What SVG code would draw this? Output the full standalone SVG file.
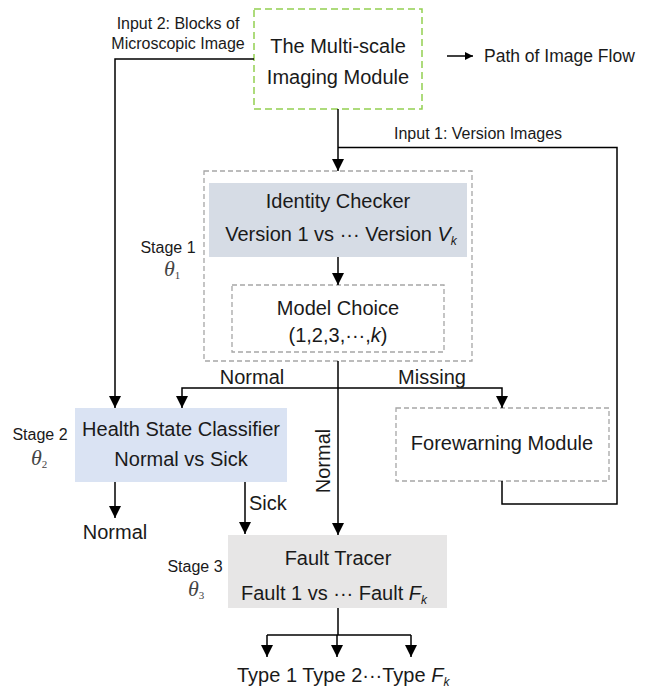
<svg xmlns="http://www.w3.org/2000/svg" width="658" height="690" viewBox="0 0 658 690">
<defs>
<marker id="ah" markerUnits="userSpaceOnUse" markerWidth="12" markerHeight="12" refX="12" refY="6" orient="auto">
<path d="M0,0 L12,6 L0,12 z" fill="#000"/>
</marker>
<marker id="ahs" markerUnits="userSpaceOnUse" markerWidth="8" markerHeight="8" refX="8" refY="4" orient="auto">
<path d="M0,0 L8,4 L0,8 z" fill="#000"/>
</marker>
<style>
text{font-family:"Liberation Sans",Arial,sans-serif;fill:#1a1a1a}
.t20{font-size:20px;text-anchor:middle}
.t16{font-size:16px}
.mid{text-anchor:middle}
.th{font-family:"Liberation Serif","DejaVu Serif",serif;font-style:italic;font-size:22px;fill:#444}
.sub{font-family:"Liberation Serif","DejaVu Serif",serif;font-size:11px;font-style:normal;fill:#444}
.it{font-style:italic}
.ik{font-style:italic;font-size:12px}
.line{fill:none;stroke:#000;stroke-width:1.5}
.dg{fill:none;stroke:#a6a6a6;stroke-width:1.3;stroke-dasharray:5,3}
</style>
</defs>

<g id="legend">
<line x1="447" y1="56" x2="473" y2="56" stroke="#000" stroke-width="1.5" marker-end="url(#ahs)"/>
<text x="484" y="62" style="font-size:17.5px">Path of Image Flow</text>
</g>

<g id="multiscale">
<rect x="254" y="9" width="168" height="100" fill="#fff" stroke="#92d050" stroke-width="1.5" stroke-dasharray="7,4"/>
<text class="t20" x="338" y="53">The Multi-scale</text>
<text class="t20" x="338" y="84">Imaging Module</text>
</g>

<g id="stage1">
<rect x="204" y="171" width="268" height="190" class="dg"/>
<text class="t16 mid" x="168" y="253">Stage 1</text>
<text class="th" x="164" y="276">θ<tspan class="sub" dy="3">1</tspan></text>
</g>

<g id="identity">
<rect x="209" y="183" width="258" height="74" fill="#d6dce5"/>
<text class="t20" x="338" y="208">Identity Checker</text>
<text class="t20" x="341" y="241">Version 1 vs ··· Version <tspan class="it">V</tspan><tspan class="ik" dy="4">k</tspan></text>
</g>

<g id="modelchoice">
<rect x="232" y="285" width="212" height="67" class="dg"/>
<text class="t20" x="338" y="315">Model Choice</text>
<text class="t20" x="338" y="342">(1,2,3,···,<tspan class="it">k</tspan>)</text>
</g>

<g id="health">
<rect x="75" y="408" width="212" height="74" fill="#dae3f3"/>
<text class="t20" x="181" y="436">Health State Classifier</text>
<text class="t20" x="181" y="466">Normal vs Sick</text>
<text class="t16 mid" x="40" y="440">Stage 2</text>
<text class="th" x="31" y="465">θ<tspan class="sub" dy="3">2</tspan></text>
</g>

<g id="forewarning">
<rect x="396" y="408" width="213" height="73" class="dg"/>
<text class="t20" x="502" y="450">Forewarning Module</text>
</g>

<g id="fault">
<rect x="228" y="535" width="219" height="73" fill="#e7e6e6"/>
<text class="t20" x="338" y="565">Fault Tracer</text>
<text class="t20" x="334" y="600">Fault 1 vs ··· Fault <tspan class="it">F</tspan><tspan class="ik" dy="4">k</tspan></text>
<text class="t16 mid" x="195" y="572">Stage 3</text>
<text class="th" x="188" y="596">θ<tspan class="sub" dy="3">3</tspan></text>
</g>

<g id="outputs">
<text class="t20" x="115" y="539">Normal</text>
<text style="font-size:20px" x="237" y="682">Type 1 Type 2···Type <tspan class="it">F</tspan><tspan class="ik" dy="4">k</tspan></text>
</g>

<g id="connectors">
<polyline class="line" points="254,59 115,59 115,408" marker-end="url(#ah)"/>
<line class="line" x1="338" y1="109" x2="338" y2="171" marker-end="url(#ah)"/>
<polyline class="line" points="502,481 502,504 617,504 617,147.5 338,147.5"/>
<line class="line" x1="338" y1="257" x2="338" y2="285" marker-end="url(#ah)"/>
<line class="line" x1="338" y1="361" x2="338" y2="535" marker-end="url(#ah)"/>
<polyline class="line" points="338,388 182,388 182,408" marker-end="url(#ah)"/>
<polyline class="line" points="338,388 502,388 502,408" marker-end="url(#ah)"/>
<line class="line" x1="115" y1="482" x2="115" y2="518" marker-end="url(#ah)"/>
<line class="line" x1="245" y1="482" x2="245" y2="534" marker-end="url(#ah)"/>
<line class="line" x1="338" y1="608" x2="338" y2="635"/>
<line class="line" x1="267" y1="635" x2="411" y2="635"/>
<line class="line" x1="267" y1="635" x2="267" y2="657" marker-end="url(#ah)"/>
<line class="line" x1="337" y1="635" x2="337" y2="657" marker-end="url(#ah)"/>
<line class="line" x1="411" y1="635" x2="411" y2="657" marker-end="url(#ah)"/>
<text class="t16 mid" x="178" y="29">Input 2: Blocks of</text>
<text class="t16 mid" x="178" y="49">Microscopic Image</text>
<text class="t16" x="394" y="139">Input 1: Version Images</text>
<text class="t20" x="252" y="384">Normal</text>
<text class="t20" x="432" y="384">Missing</text>
<text class="t20" transform="translate(330,461) rotate(-90)">Normal</text>
<text style="font-size:20px" x="249" y="510">Sick</text>
</g>
</svg>
